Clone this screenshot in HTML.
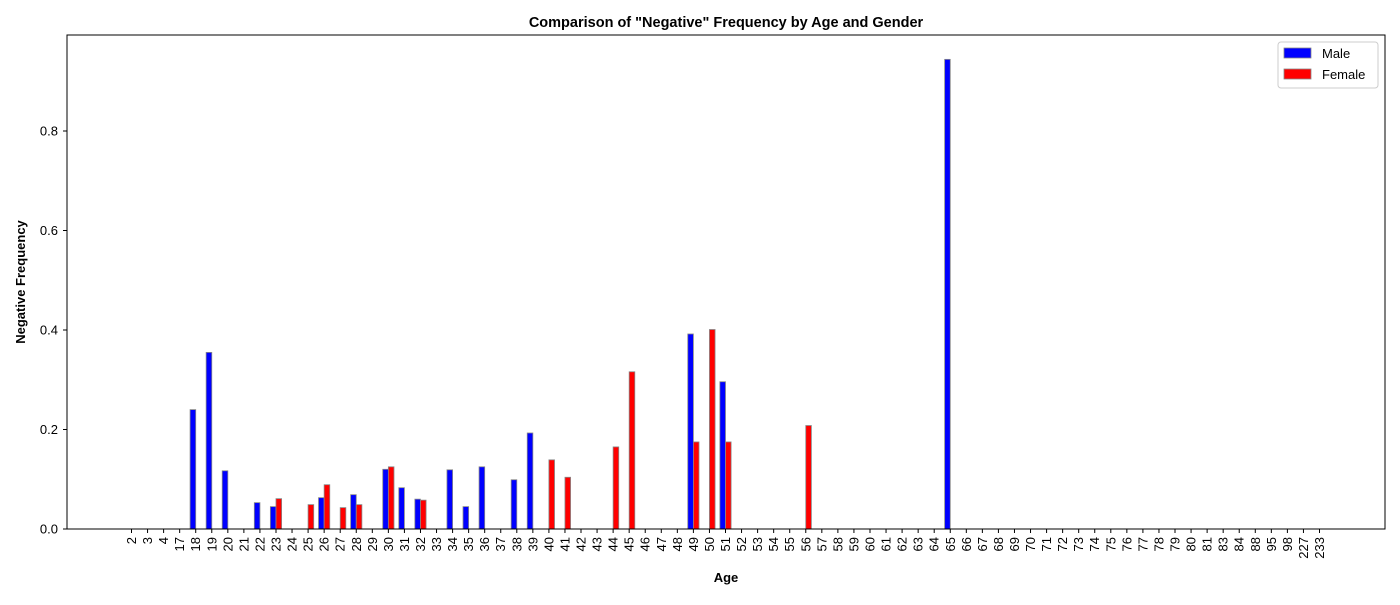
<!DOCTYPE html>
<html><head><meta charset="utf-8"><style>
body{margin:0;background:#fff;font-family:"Liberation Sans",sans-serif}
</style></head><body>
<svg id="chart" width="1400" height="600" xmlns="http://www.w3.org/2000/svg" font-family="Liberation Sans, sans-serif">
<text x="726" y="27" text-anchor="middle" font-size="14.5" font-weight="bold">Comparison of "Negative" Frequency by Age and Gender</text>
<g id="plot"></g>
<rect x="67" y="35" width="1318" height="494" fill="none" stroke="#000" stroke-width="1"/>
<text x="726" y="582" text-anchor="middle" font-size="13" font-weight="bold">Age</text>
<text transform="translate(25,282) rotate(-90)" text-anchor="middle" font-size="13" font-weight="bold">Negative Frequency</text>
<g>
<rect x="1278" y="42" width="100" height="46" rx="3" fill="#fff" stroke="#ccc"/>
<rect x="1284" y="48" width="27" height="10" fill="#0000ff" stroke="#888" stroke-width="0.8"/>
<text x="1322" y="58" font-size="13">Male</text>
<rect x="1284" y="69" width="27" height="10" fill="#ff0000" stroke="#888" stroke-width="0.8"/>
<text x="1322" y="79" font-size="13">Female</text>
</g>
</svg>
<script>
const ages=[2,3,4,17,18,19,20,21,22,23,24,25,26,27,28,29,30,31,32,33,34,35,36,37,38,39,40,41,42,43,44,45,46,47,48,49,50,51,52,53,54,55,56,57,58,59,60,61,62,63,64,65,66,67,68,69,70,71,72,73,74,75,76,77,78,79,80,81,83,84,88,95,98,227,233];
const maleVals={18:0.24,19:0.355,20:0.117,22:0.053,23:0.045,26:0.063,28:0.069,30:0.12,31:0.083,32:0.06,34:0.119,35:0.045,36:0.125,38:0.099,39:0.193,49:0.392,51:0.296,65:0.944};
const femaleVals={23:0.061,25:0.049,26:0.089,27:0.043,28:0.049,30:0.125,32:0.058,40:0.139,41:0.104,44:0.165,45:0.316,49:0.175,50:0.401,51:0.175,56:0.208};
const yTicks=[0,0.2,0.4,0.6,0.8];
const NS="http://www.w3.org/2000/svg";
const g=document.getElementById('plot');
const step=(1319.5-131.5)/(ages.length-1);
const xs=i=>131.5+i*step;
const ys=v=>529-v*497.5;
const bw=step*0.35;
function mk(t,a){const e=document.createElementNS(NS,t);for(const k in a)e.setAttribute(k,a[k]);g.appendChild(e);return e;}
yTicks.forEach(v=>{
 const l=mk('line',{x1:63,x2:67,y1:ys(v),y2:ys(v),stroke:'#000'});
 
 
 const t=mk('text',{x:58,y:ys(v)+4.5,'text-anchor':'end','font-size':13});
 
 
 t.textContent=v.toFixed(1);
});
ages.forEach((a,i)=>{
 const x=xs(i);
 const l=mk('line',{x1:x,x2:x,y1:529,y2:533,stroke:'#000'});
 
 
 const t=mk('text',{transform:`translate(${x+4.5},537) rotate(-90)`,'text-anchor':'end','font-size':13});
 
 
 t.textContent=a;
 const m=maleVals[a]||0, f=femaleVals[a]||0;
 if(m>0){const r=mk('rect',{x:x-bw,y:ys(m),width:bw,height:529-ys(m),fill:'#0000ff',stroke:'#888','stroke-width':0.8});
  
  }
 if(f>0){const r=mk('rect',{x:x,y:ys(f),width:bw,height:529-ys(f),fill:'#ff0000',stroke:'#888','stroke-width':0.8});
  
  }
});
</script>
</body></html>
